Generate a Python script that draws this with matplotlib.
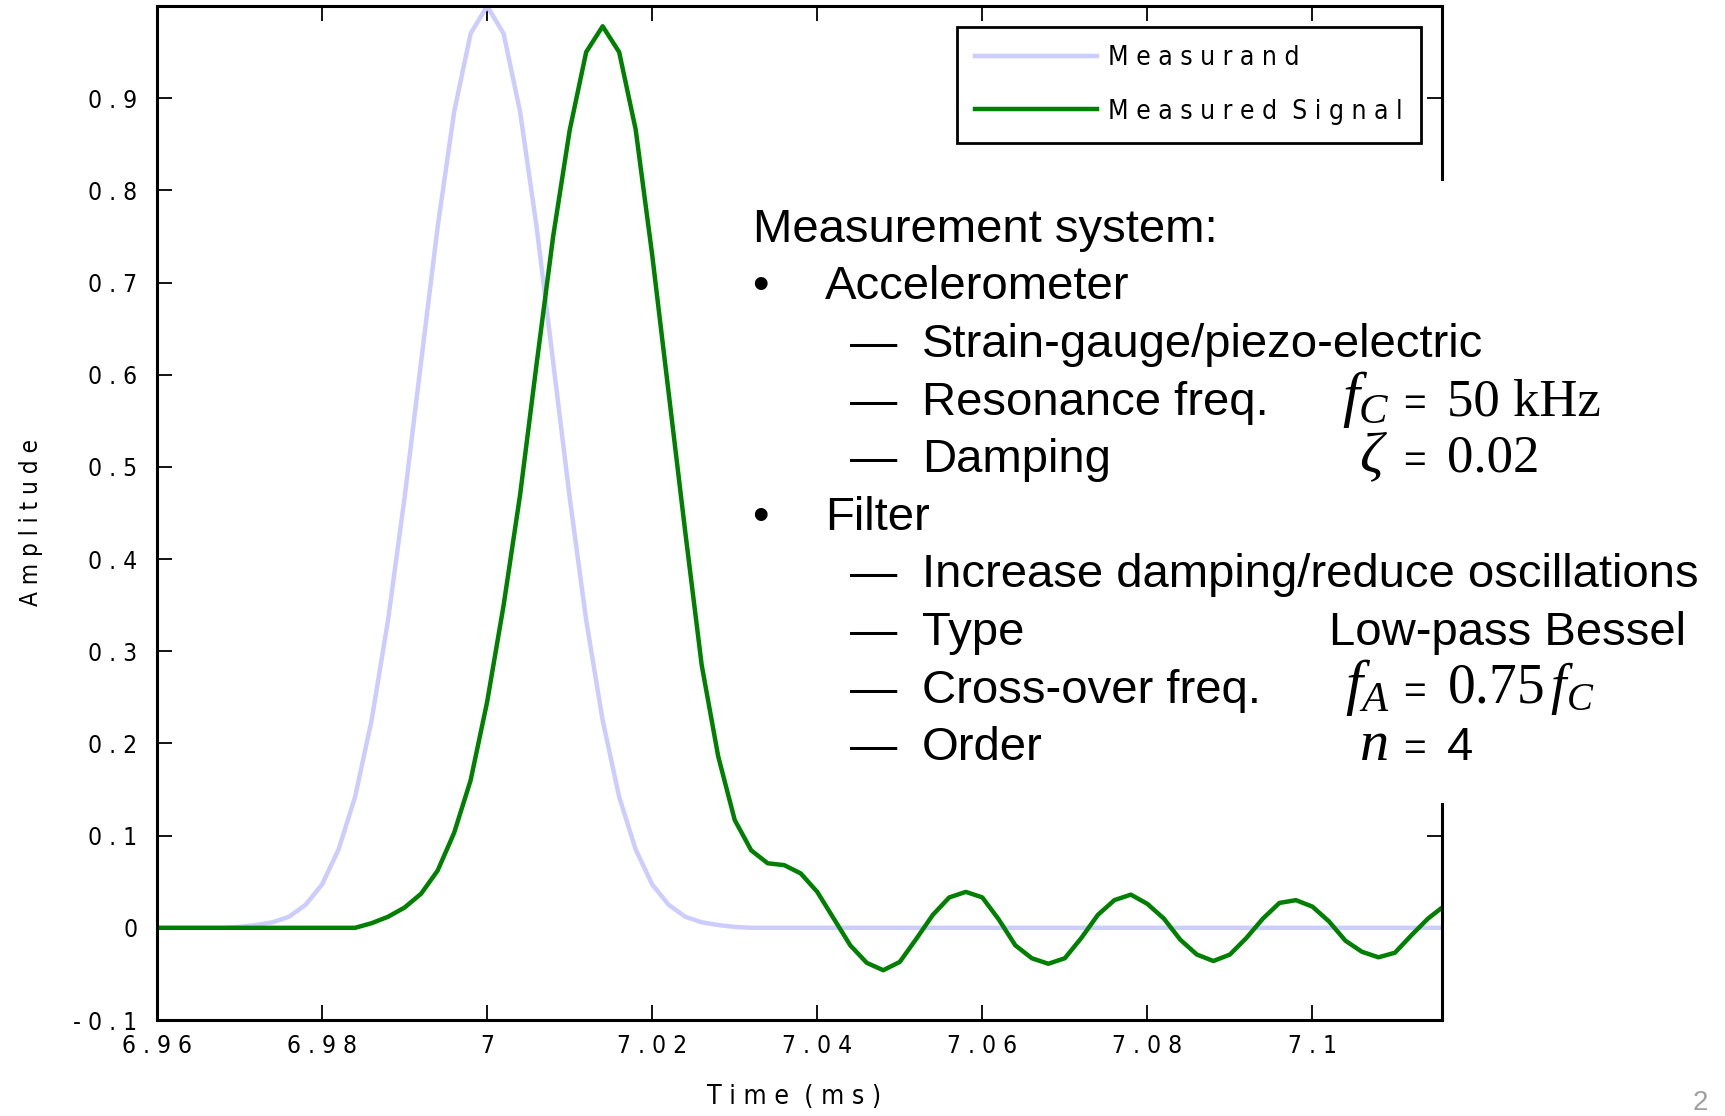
import os
import matplotlib
matplotlib.use("Agg")
import matplotlib.pyplot as plt
from matplotlib import font_manager
from matplotlib.font_manager import FontProperties
from matplotlib.patches import Rectangle
from matplotlib.textpath import TextPath

# ============ data ============
t_meas = [6.960, 6.968, 6.970, 6.972, 6.974, 6.976, 6.978, 6.980, 6.982, 6.984,
          6.986, 6.988, 6.990, 6.992, 6.994, 6.996, 6.998, 7.000, 7.002, 7.004,
          7.006, 7.008, 7.010, 7.012, 7.014, 7.016, 7.018, 7.020, 7.022, 7.024,
          7.026, 7.028, 7.030, 7.032, 7.116]
measurand = [0, 0, 0.001, 0.003, 0.006, 0.012, 0.025, 0.047, 0.085, 0.142,
             0.225, 0.334, 0.467, 0.614, 0.760, 0.885, 0.970, 1.000, 0.970, 0.885,
             0.760, 0.614, 0.467, 0.334, 0.225, 0.142, 0.085, 0.047, 0.025, 0.012,
             0.006, 0.003, 0.001, 0, 0]

t_sig = [6.960, 6.984, 6.986, 6.988, 6.990, 6.992, 6.994, 6.996, 6.998, 7.000,
         7.002, 7.004, 7.006, 7.008, 7.010, 7.012, 7.014, 7.016, 7.018, 7.020,
         7.022, 7.024, 7.026, 7.028, 7.030, 7.032, 7.034, 7.036, 7.038, 7.040,
         7.042, 7.044, 7.046, 7.048, 7.050, 7.052, 7.054, 7.056, 7.058, 7.060,
         7.062, 7.064, 7.066, 7.068, 7.070, 7.072, 7.074, 7.076, 7.078, 7.080,
         7.082, 7.084, 7.086, 7.088, 7.090, 7.092, 7.094, 7.096, 7.098, 7.100,
         7.102, 7.104, 7.106, 7.108, 7.110, 7.112, 7.114, 7.116]
signal = [0, 0, 0.005, 0.012, 0.022, 0.037, 0.062, 0.103, 0.160, 0.245,
          0.350, 0.470, 0.612, 0.750, 0.865, 0.950, 0.978, 0.950, 0.866, 0.730,
          0.580, 0.430, 0.285, 0.186, 0.117, 0.084, 0.070, 0.068, 0.059, 0.039,
          0.010, -0.019, -0.038, -0.046, -0.037, -0.012, 0.014, 0.033, 0.039, 0.033,
          0.009, -0.019, -0.033, -0.039, -0.033, -0.011, 0.014, 0.030, 0.036, 0.026,
          0.010, -0.013, -0.029, -0.036, -0.029, -0.011, 0.010, 0.027, 0.030, 0.023,
          0.007, -0.014, -0.026, -0.032, -0.027, -0.008, 0.010, 0.024]

x_ticks = [6.96, 6.98, 7.00, 7.02, 7.04, 7.06, 7.08, 7.10]
x_labels = ["6 . 9 6", "6 . 9 8", "7", "7 . 0 2", "7 . 0 4", "7 . 0 6", "7 . 0 8", "7 . 1"]
y_ticks = [-0.1, 0.0, 0.1, 0.2, 0.3, 0.4, 0.5, 0.6, 0.7, 0.8, 0.9]
y_labels = ["- 0 . 1", "0", "0 . 1", "0 . 2", "0 . 3", "0 . 4", "0 . 5",
            "0 . 6", "0 . 7", "0 . 8", "0 . 9"]

# ============ fonts ============
plt.rcParams["font.family"] = ["Liberation Sans", "DejaVu Sans"]
plt.rcParams["mathtext.fontset"] = "custom"
plt.rcParams["mathtext.rm"] = "Liberation Serif"
plt.rcParams["mathtext.it"] = "Liberation Serif:italic"


def find_narrow():
    # the axis texts of the slide use a narrow sans; take one if there is one
    best, best_score = None, -1
    for f in font_manager.fontManager.ttflist:
        base = os.path.basename(f.fname).lower()
        key = (f.name + " " + base).lower()
        if not ("narrow" in key or "condensed" in key or f.stretch not in ("normal", 500)):
            continue
        if any(w in base for w in ("bold", "italic", "oblique", "light", "thin",
                                   "black", "medium", "semi", "extra")):
            continue
        score = 3 if "liberation" in key else 2 if "dejavu" in key else 1
        if score > best_score:
            best, best_score = f.fname, score
    return best


narrow_file = find_narrow()


def narrow_prop(size):
    if narrow_file:
        return FontProperties(fname=narrow_file, size=size)
    return FontProperties(family="DejaVu Sans", stretch="condensed", size=size)


def fit_size(text, width_px):
    # font size (pt) that makes text about width_px wide at dpi 100
    w = TextPath((0, 0), text, size=10, prop=narrow_prop(10)).get_extents().width
    return 10 * width_px * 0.72 / w


tick_size = fit_size("0 . 9", 46)
legend_size = fit_size("M e a s u r e d  S i g n a l", 290)
ylab_size = fit_size("A m p l i t u d e", 166)
xlab_size = fit_size("T i m e  ( m s )", 172)

W, H = 1725, 1116
fig = plt.figure(figsize=(W / 100, H / 100), dpi=100)
left, right, top, bottom = 157, 1442, 6, 1020
ax = fig.add_axes([left / W, 1 - bottom / H, (right - left) / W, (bottom - top) / H])

ax.plot(t_meas, measurand, color="#ccccff", lw=3.2, label="M e a s u r a n d")
ax.plot(t_sig, signal, color="#008000", lw=3.2, label="M e a s u r e d  S i g n a l")

ax.set_xlim(6.96, 7.1157)
ax.set_ylim(-0.1, 1.0)
ax.set_xticks(x_ticks)
ax.set_xticklabels(x_labels, fontproperties=narrow_prop(tick_size))
ax.set_yticks(y_ticks)
ax.set_yticklabels(y_labels, fontproperties=narrow_prop(tick_size))
ax.tick_params(direction="in", length=11, width=1.3, top=True, right=True)
ax.tick_params(axis="x", pad=10)
ax.tick_params(axis="y", pad=14)
for s in ax.spines.values():
    s.set_linewidth(2.2)

fpx = legend_size * 100 / 72
leg = ax.legend(loc="upper left", bbox_to_anchor=(957 / W, 1 - 27 / H),
                bbox_transform=fig.transFigure, fancybox=False, framealpha=1,
                edgecolor="black", prop=narrow_prop(legend_size),
                handlelength=122 / fpx, handletextpad=0.4,
                labelspacing=(58 - 1.17 * fpx) / fpx, borderpad=0.7, borderaxespad=0)
leg.get_frame().set_linewidth(2.0)

fig.text(31 / W, 1 - 522 / H, "A m p l i t u d e", rotation=90, ha="center",
         va="center", fontproperties=narrow_prop(ylab_size))
fig.text(794 / W, 1 - 1097 / H, "T i m e  ( m s )", ha="center", va="center",
         fontproperties=narrow_prop(xlab_size))

# white panel behind the notes (it hides part of the right spine)
fig.add_artist(Rectangle((745 / W, 1 - 803 / H), (W - 745) / W, (803 - 181) / H,
                         transform=fig.transFigure, facecolor="white",
                         edgecolor="none", zorder=5))


def put(x, y, s, **kw):
    kw.setdefault("fontsize", 34)
    fig.text(x / W, 1 - y / H, s, va="baseline", zorder=6, **kw)


base = [242, 299, 357, 415, 472, 530, 587, 645, 703, 760]
put(753, base[0], "Measurement system:")
for i, txt in [(1, "Accelerometer"), (5, "Filter")]:
    put(752, base[i], "•")
    put(825, base[i], txt)
subs = [(2, "Strain-gauge/piezo-electric"), (3, "Resonance freq."), (4, "Damping"),
        (6, "Increase damping/reduce oscillations"), (7, "Type"),
        (8, "Cross-over freq."), (9, "Order")]
for i, txt in subs:
    put(850, base[i], "—")
    put(922, base[i], txt)

put(1390, base[3], r"$f_C$", ha="right", fontsize=44)
put(1403, base[3], "=", fontsize=28)
put(1447, base[3], "50 kHz", fontfamily="Liberation Serif", fontsize=38)
put(1388, base[4], r"$\zeta$", ha="right", fontsize=42)
put(1403, base[4], "=", fontsize=28)
put(1447, base[4], "0.02", fontfamily="Liberation Serif", fontsize=38)
put(1329, base[7], "Low-pass Bessel")
put(1390, base[8], r"$f_A$", ha="right", fontsize=44)
put(1403, base[8], "=", fontsize=28)
put(1447, base[8], r"0.75$\,f_C$", fontfamily="Liberation Serif", fontsize=40)
put(1388, base[9], r"$n$", ha="right", fontsize=42)
put(1403, base[9], "=", fontsize=28)
put(1447, base[9], "4")

fig.text(1693 / W, 1 - 1110 / H, "2", color="#a0a0a0", fontsize=20, va="baseline")

fig.savefig("out.png", dpi=100)
